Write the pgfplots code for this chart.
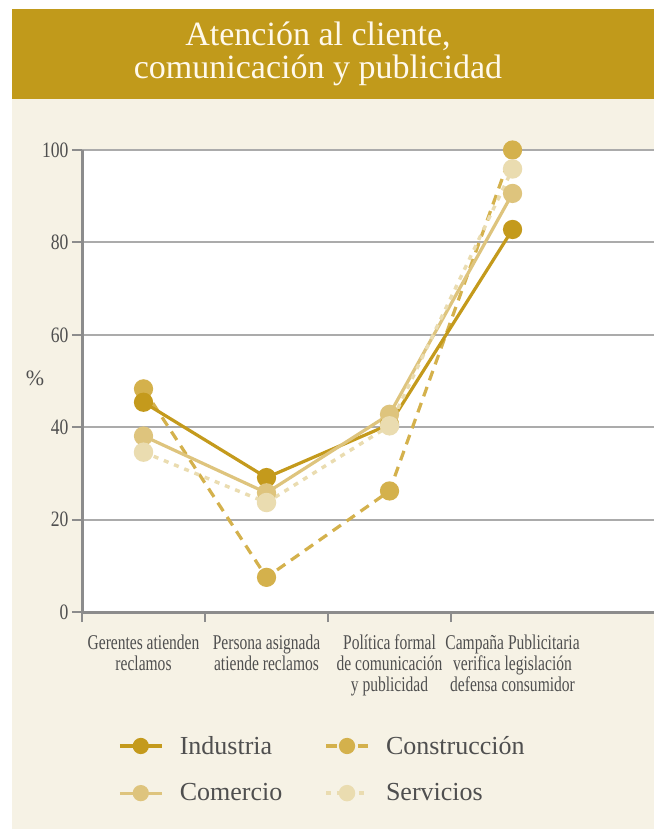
\documentclass[border=0pt]{standalone}
\usepackage{pgfplots}
\pgfplotsset{compat=1.18}
\usepackage{fontspec}
\setmainfont{Liberation Serif}
\newfontfamily\condensed[FakeStretch=0.8]{Liberation Serif}
\newfontfamily\condensedx[FakeStretch=0.74]{Liberation Serif}
\definecolor{band}{HTML}{C19A1B}
\definecolor{cream}{HTML}{F6F2E5}
\definecolor{titletext}{HTML}{FFF9EC}
\definecolor{cInd}{HTML}{C49A1C}
\definecolor{cCon}{HTML}{D4B14C}
\definecolor{cCom}{HTML}{DEC47D}
\definecolor{cSer}{HTML}{EADCB0}
\definecolor{textgray}{HTML}{4F4F4F}
\definecolor{gridgray}{HTML}{ABABAB}
\definecolor{axisgray}{HTML}{8C8C8C}
\begin{document}
\begin{tikzpicture}
\fill[white] (0pt,0pt) rectangle (654pt,-830pt);
\fill[cream] (12pt,-99pt) rectangle (654pt,-829pt);
\fill[band] (12pt,-9pt) rectangle (654pt,-99pt);
\node[anchor=base, text=titletext, font=\fontsize{34}{36}\selectfont, inner sep=0pt] at (318pt,-45pt) {Atención al cliente,};
\node[anchor=base, text=titletext, font=\fontsize{34}{36}\selectfont, inner sep=0pt] at (318pt,-78pt) {comunicación y publicidad};
\begin{axis}[
  at={(82pt,-612pt)}, anchor=south west,
  scale only axis, width=572pt, height=462pt,
  xmin=-0.5, xmax=4.15, ymin=0, ymax=100,
  clip=false,
  axis background/.style={fill=white},
  axis x line*=bottom, axis y line*=left,
  axis line style={draw=axisgray, line width=3pt, -},
  ytick={0,20,40,60,80,100},
  ymajorgrids, grid style={draw=gridgray, line width=2pt},
  tick align=outside, major tick length=10pt,
  tick style={draw=axisgray, line width=2pt},
  xtick={-0.5,0.5,1.5,2.5}, xticklabels={,,,},
  extra x ticks={0,1,2,3},
  extra x tick labels={{Gerentes atienden\\reclamos},{Persona asignada\\atiende reclamos},{Política formal\\de comunicación\\y publicidad},{Campaña Publicitaria\\verifica legislación\\defensa consumidor}},
  extra x tick style={major tick length=0pt, grid=none, xticklabel style={yshift=-19pt}},
  xticklabel style={align=center, font=\condensedx\fontsize{21}{21}\selectfont, text=textgray},
  yticklabel style={font=\condensed\fontsize{22}{22}\selectfont, text=textgray},
  /pgf/number format/assume math mode=true,
  ylabel={\%},
  ylabel style={at={(axis description cs:-0.082,0.506)}, rotate=-90, anchor=center, font=\fontsize{22}{24}\selectfont, text=textgray},
  legend columns=2,
  legend cell align=left,
  legend style={at={(0.0577,-0.2597)}, anchor=north west, draw=none, fill=none,
    font=\fontsize{26}{28}\selectfont, text=textgray,
    /tikz/every even column/.append style={column sep=40pt}, row sep=24pt},
  legend image code/.code={\draw[mark repeat=2,mark phase=2] plot coordinates {(0pt,0pt)(21pt,0pt)(42pt,0pt)};\path[draw=none,fill=none] (0pt,0pt) -- (58pt,0pt);},
]
\addplot[forget plot, cCon, line width=3.2pt, dash pattern=on 10pt off 7pt, mark=*, mark size=8pt, mark options={solid, draw=none, fill=cCon}]
  coordinates {(0,48.3) (1,7.5) (2,26.2) (3,100)};
\addplot[forget plot, cInd, line width=3.2pt, mark=*, mark size=8pt, mark options={draw=none, fill=cInd}]
  coordinates {(0,45.4) (1,29.1) (2,40.6) (3,82.8)};
\addplot[forget plot, cCom, line width=3.2pt, mark=*, mark size=8pt, mark options={draw=none, fill=cCom}]
  coordinates {(0,38.1) (1,25.8) (2,42.8) (3,90.6)};
\addplot[forget plot, cSer, line width=3.4pt, dash pattern=on 5pt off 6pt, mark=*, mark size=8pt, mark options={solid, draw=none, fill=cSer}]
  coordinates {(0,34.6) (1,23.7) (2,40.3) (3,95.9)};
\addlegendimage{cInd, line width=3.2pt, mark=*, mark size=6.5pt, mark options={draw=none, fill=cInd}}
\addlegendentry{Industria}
\addlegendimage{cCon, line width=3.2pt, dash pattern=on 10.5pt off 21pt, mark=*, mark size=6.5pt, mark options={solid, draw=none, fill=cCon}}
\addlegendentry{Construcción}
\addlegendimage{cCom, line width=3.2pt, mark=*, mark size=6.5pt, mark options={draw=none, fill=cCom}}
\addlegendentry{Comercio}
\addlegendimage{cSer, line width=3.4pt, dash pattern=on 5pt off 6pt, mark=*, mark size=6.5pt, mark options={solid, draw=none, fill=cSer}}
\addlegendentry{Servicios}
\end{axis}
\end{tikzpicture}
\end{document}
